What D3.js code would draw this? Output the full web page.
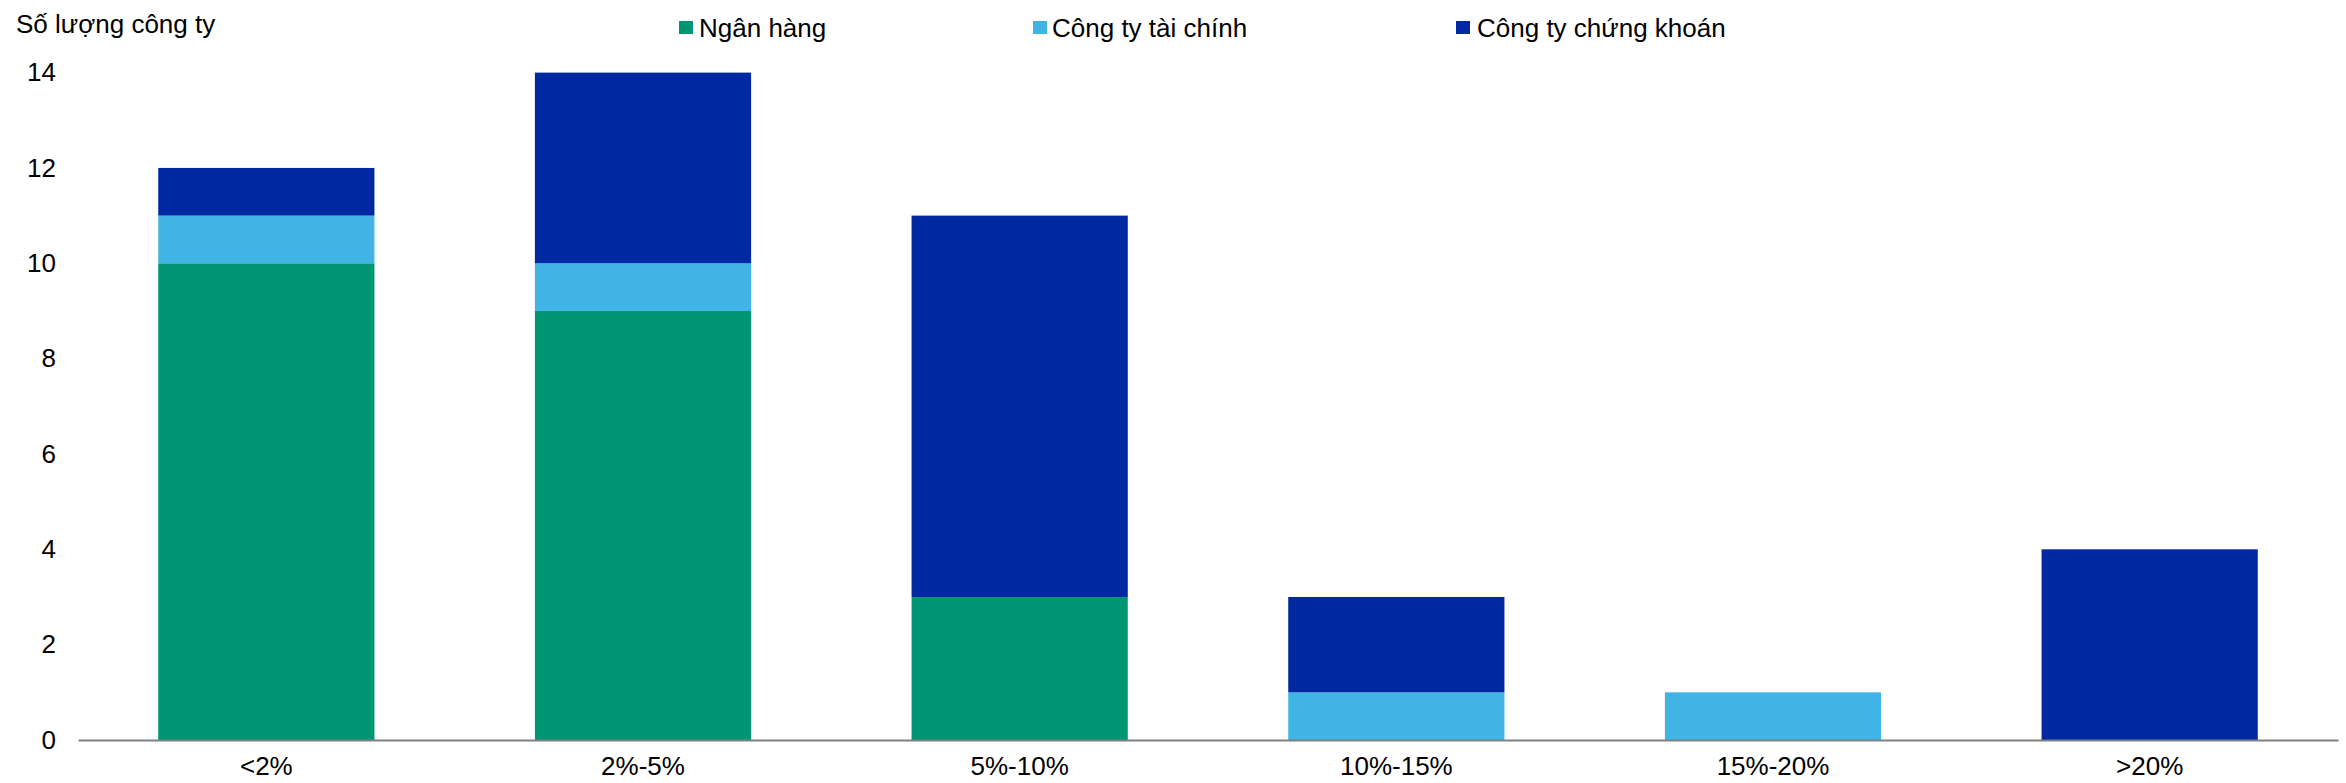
<!DOCTYPE html>
<html>
<head>
<meta charset="utf-8">
<script src="https://cdn.jsdelivr.net/npm/d3@7/dist/d3.min.js"></script>
<style>
  html, body { margin: 0; padding: 0; background: #fff; }
  svg text { font-family: "Liberation Sans", Arial, sans-serif; fill: #000; }
</style>
</head>
<body>
<svg id="chart" width="2346" height="783"></svg>
<script>
const categories = ["<2%", "2%-5%", "5%-10%", "10%-15%", "15%-20%", ">20%"];
const seriesNames = ["Ngân hàng", "Công ty tài chính", "Công ty chứng khoán"];
const nganHang = [10, 9, 3, 0, 0, 0];
const congTyTaiChinh = [1, 1, 0, 1, 1, 0];
const congTyChungKhoan = [1, 4, 8, 2, 0, 4];
const yTicks = [0, 2, 4, 6, 8, 10, 12, 14];
const yTitle = "Số lượng công ty";
const colors = ["#009673", "#41B4E6", "#0028A0"];

const svg = d3.select("#chart");
const fontSize = 26;

const x = d3.scaleBand().domain(categories).range([78, 2338])
  .paddingInner(0.426).paddingOuter(0.213);
const y = d3.scaleLinear().domain([0, 14]).range([740, 72.6]);

const table = categories.map((c, i) => ({
  cat: c,
  [seriesNames[0]]: nganHang[i],
  [seriesNames[1]]: congTyTaiChinh[i],
  [seriesNames[2]]: congTyChungKhoan[i]
}));
const stacked = d3.stack().keys(seriesNames)(table);

svg.append("g").selectAll("g").data(stacked).join("g")
  .attr("fill", (d, i) => colors[i])
  .selectAll("rect").data(d => d.filter(v => v[1] - v[0] > 0)).join("rect")
  .attr("x", d => x(d.data.cat))
  .attr("width", x.bandwidth())
  .attr("y", d => y(d[1]))
  .attr("height", d => y(d[0]) - y(d[1]));

// y axis tick labels
const yAxis = d3.axisLeft(y).tickValues(yTicks).tickSize(0).tickPadding(0);
const yg = svg.append("g").attr("transform", "translate(56,0)").call(yAxis);
yg.select(".domain").remove();
yg.selectAll("text").attr("font-size", fontSize).attr("font-family", "Liberation Sans, Arial, sans-serif").attr("fill", "#000");

// x axis
const xAxis = d3.axisBottom(x).tickSize(0).tickPadding(17);
const xg = svg.append("g").attr("transform", "translate(0,740)").call(xAxis);
xg.select(".domain").attr("stroke", "#808080").attr("stroke-width", 2);
xg.selectAll("text").attr("font-size", fontSize).attr("font-family", "Liberation Sans, Arial, sans-serif").attr("fill", "#000");

// y title
svg.append("text").attr("x", 16).attr("y", 33).attr("font-size", fontSize).text(yTitle);

// legend
const legendX = [679, 1033, 1456];
const legendTextDx = [20, 19, 21];
const lg = svg.append("g").selectAll("g").data(seriesNames).join("g")
  .attr("transform", (d, i) => `translate(${legendX[i]},0)`);
lg.append("rect").attr("x", 0).attr("y", 21).attr("width", 14).attr("height", 13)
  .attr("fill", (d, i) => colors[i]);
lg.append("text").attr("x", (d, i) => legendTextDx[i]).attr("y", 37).attr("font-size", fontSize).text(d => d);
</script>
</body>
</html>
